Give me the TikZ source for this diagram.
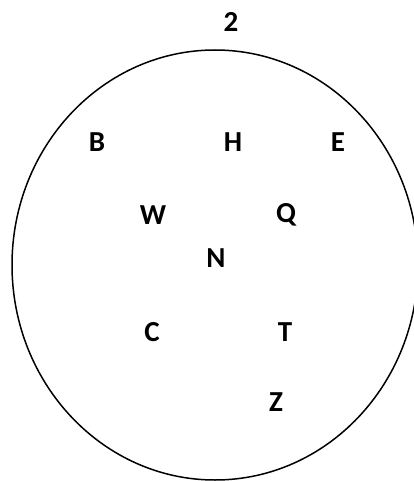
\documentclass[tikz,border=0pt]{standalone}
\usepackage{fontspec}
\setmainfont{Carlito}
\begin{document}
\begin{tikzpicture}[x=1pt,y=-1pt,
  lbl/.style={font=\bfseries\fontsize{29}{31}\selectfont, inner sep=0pt}]
\useasboundingbox (0,0) rectangle (414,481);
\clip (0,0) rectangle (414,481);
\draw[line width=1.5pt] (215,265) ellipse [x radius=203, y radius=215];
\node[lbl] (two) at (231,22) {2};
\node[lbl] (B) at (97,142) {B};
\node[lbl] (H) at (233,142) {H};
\node[lbl] (E) at (338,142) {E};
\node[lbl] (W) at (153,215) {W};
\node[lbl] (Q) at (286,215) {Q};
\node[lbl] (N) at (216,258) {N};
\node[lbl] (C) at (152,332) {C};
\node[lbl] (T) at (285,332) {T};
\node[lbl] (Z) at (276,402) {Z};
\end{tikzpicture}
\end{document}
